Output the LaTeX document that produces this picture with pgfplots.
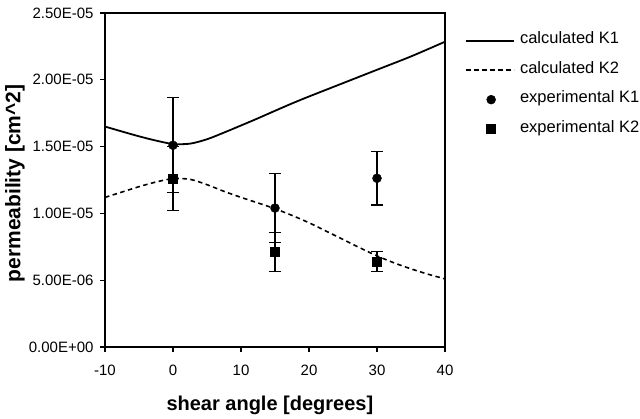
\documentclass[border=0pt]{standalone}
\usepackage{fontspec}
\setmainfont{Liberation Sans}
\usepackage{pgfplots}
\pgfplotsset{compat=1.18}
\pgfplotsset{
	linelegend/.style={legend image code/.code={\draw[##1] (0bp,0bp) -- (48bp,0bp);}},
	marklegend/.style={legend image code/.code={\path[draw=none,fill=none] (0bp,0bp) -- (48bp,0bp);
		\draw[##1, only marks] plot coordinates {(25bp,0bp)};}},
}

\begin{document}
\begin{tikzpicture}[x=1bp,y=1bp]
\path[use as bounding box] (0,0) rectangle (640,418);
\begin{axis}[
	at={(105bp,71bp)}, anchor=south west,
	scale only axis, width=340bp, height=334bp,
	xmin=-10, xmax=40, ymin=0, ymax=2.5e-5,
	xtick={-10,0,10,20,30,40},
	xticklabels={-10,0,10,20,30,40},
	ytick={0,5e-6,1e-5,1.5e-5,2e-5,2.5e-5},
	yticklabels={0.00E+00,5.00E-06,1.00E-05,1.50E-05,2.00E-05,2.50E-05},
	scaled y ticks=false,
	tick pos=left, tick align=outside, major tick length=5bp,
	axis line style={line width=1.3bp},
	tick style={line width=1.2bp, black},
	ticklabel style={font=\fontsize{15bp}{17bp}\selectfont},
	xticklabel style={yshift=-9bp},
	yticklabel style={xshift=-3bp},
	xlabel={\textbf{shear angle [degrees]}},
	ylabel={\textbf{permeability [cm\textasciicircum 2]}},
	xlabel style={font=\fontsize{20bp}{22bp}\selectfont,
		at={(axis description cs:0.485,-0.174)}, anchor=center},
	ylabel style={font=\fontsize{21bp}{23bp}\selectfont,
		at={(axis description cs:-0.265,0.49)}, anchor=center},
	legend style={at={(1.059,0.935)}, anchor=north west, draw=none, fill=none,
		inner sep=0pt, column sep=5bp, row sep=18bp,
		font=\fontsize{16.5bp}{18bp}\selectfont,
		nodes={inner sep=0pt, text height=9bp, text depth=2.5bp}},
	legend cell align=left,
	clip=false,
]
% calculated K1
\addplot[black, line width=1.8bp, smooth, linelegend]
coordinates{
(-10,1.650e-5) (-7.5,1.613e-5) (-5,1.577e-5) (-2.5,1.545e-5) (0,1.520e-5)
(2.5,1.522e-5) (5,1.555e-5) (7.5,1.605e-5) (10,1.658e-5) (12.5,1.712e-5)
(15,1.768e-5) (17.5,1.823e-5) (20,1.875e-5) (25,1.975e-5) (30,2.075e-5)
(35,2.175e-5) (40,2.285e-5)
};
\addlegendentry{calculated K1}
% calculated K2
\addplot[black, line width=1.6bp, dash pattern=on 4.5bp off 3.5bp, smooth, linelegend]
coordinates{
(-10,1.120e-5) (-7.5,1.160e-5) (-5,1.200e-5) (-2.5,1.235e-5) (0,1.260e-5)
(2.5,1.255e-5) (5,1.215e-5) (7.5,1.165e-5) (10,1.120e-5) (12.5,1.078e-5)
(15,1.035e-5) (17.5,0.985e-5) (20,0.930e-5) (22.5,0.868e-5) (25,0.805e-5)
(27.5,0.742e-5) (30,0.682e-5) (32.5,0.630e-5) (35,0.585e-5) (37.5,0.545e-5)
(40,0.510e-5)
};
\addlegendentry{calculated K2}
% experimental K1
\addplot[black, only marks, mark=*, mark size=4.5bp, marklegend,
	error bars/.cd, y dir=both, y explicit,
	error bar style={line width=1.2bp},
	error mark options={rotate=90, mark size=6bp, line width=1.2bp}]
coordinates{
(0,1.510e-5) +- (0,0.355e-5)
(15,1.040e-5) +- (0,0.257e-5)
(30,1.263e-5) +- (0,0.200e-5)
};
\addlegendentry{experimental K1}
% experimental K2
\addplot[black, only marks, mark=square*, mark size=4.5bp, marklegend,
	error bars/.cd, y dir=both, y explicit,
	error bar style={line width=1.2bp},
	error mark options={rotate=90, mark size=6bp, line width=1.2bp}]
coordinates{
(0,1.262e-5) +- (0,0.240e-5)
(15,0.710e-5) +- (0,0.145e-5)
(30,0.639e-5) +- (0,0.075e-5)
};
\addlegendentry{experimental K2}
\end{axis}
\end{tikzpicture}
\end{document}
